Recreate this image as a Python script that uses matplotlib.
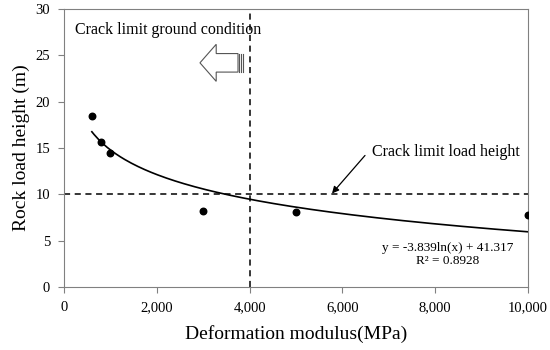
import numpy as np
import matplotlib.pyplot as plt
from matplotlib.patches import FancyArrow

# measured points
modulus = [600, 800, 1000, 3000, 5000, 10000]
load_height = [18.5, 15.7, 14.5, 8.2, 8.1, 7.8]

# log trendline from the chart label
fit_a = -3.839
fit_b = 41.317
fit_r2 = 0.8928

crack_modulus = 4000
crack_height = 10

plt.rcParams['font.family'] = 'Liberation Serif'
fig = plt.figure(figsize=(5.5, 3.5), dpi=100)
ax = fig.add_axes([0.1164, 0.18, 0.8436, 0.794])

xs = np.linspace(min(modulus), max(modulus), 200)
ax.plot(xs, fit_a * np.log(xs) + fit_b, color='black', lw=1.2)
ax.scatter(modulus, load_height, s=22, color='black', zorder=3)

ax.axvline(crack_modulus, color='black', ls='--', lw=1.1, dashes=(4, 3))
ax.axhline(crack_height, color='black', ls='--', lw=1.1, dashes=(4, 3))

ax.set_xlim(0, 10000)
ax.set_ylim(0, 30)
ax.set_xticks(range(0, 10001, 2000))
ax.set_xticklabels([f'{v:,}' for v in range(0, 10001, 2000)])
ax.set_yticks(range(0, 31, 5))
ax.tick_params(direction='out', length=4, color='#808080', labelsize=10.5, pad=6)
for sp in ax.spines.values():
    sp.set_color('#808080')

ax.set_xlabel('Deformation modulus(MPa)', fontsize=14, labelpad=8)
ax.set_ylabel('Rock load height (m)', fontsize=14, labelpad=4)

# annotations
ax.text(2240, 27.7, 'Crack limit ground condition', fontsize=11.5,
        ha='center', va='center')
arr = FancyArrow(3750, 24.2, -820, 0, width=2.0, head_width=4.0,
                 head_length=350, length_includes_head=True,
                 facecolor='white', edgecolor='#555555', lw=0.8)
ax.add_patch(arr)
for xv in [3770, 3810, 3850]:
    ax.plot([xv, xv], [23.2, 25.2], color='#555555', lw=0.8)

ax.text(6640, 14.6, 'Crack limit load height', fontsize=11.5,
        va='center', ha='left')
ax.annotate('', xy=(5776, 10.1), xytext=(6487, 14.2),
            arrowprops=dict(arrowstyle='-|>', color='black', lw=0.9,
                            shrinkA=0, shrinkB=0))

ax.text(8276, 3.5, f'y = {fit_a}ln(x) + {fit_b}\nR² = {fit_r2}', fontsize=9.5,
        ha='center', va='center', linespacing=1.15)

fig.savefig('out.png', dpi=100)
